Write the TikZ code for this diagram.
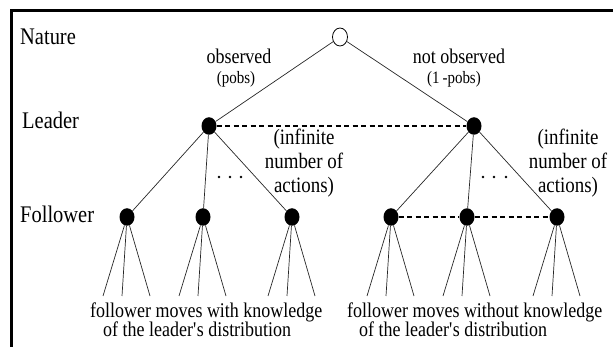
\documentclass[tikz,border=0pt]{standalone}
\usepackage{fontspec}
\setmainfont{Liberation Serif}[FakeStretch=0.86]
\usetikzlibrary{shapes.geometric,calc}
\newcommand{\sq}{{\XeTeXglyph\XeTeXcharglyph"0027\relax}}
\begin{document}
\begin{tikzpicture}[x=1pt,y=-1pt,
  decision/.style={ellipse, fill=black, minimum width=15pt, minimum height=17.5pt, inner sep=0pt},
  chance/.style={ellipse, draw=black, fill=white, line width=0.8pt, minimum width=15pt, minimum height=18pt, inner sep=0pt},
  edge/.style={line width=0.7pt, draw=black!85},
  info/.style={line width=1.6pt, dash pattern=on 5pt off 3.5pt},
  frameline/.style={line width=3pt},
  lvl/.style={inner sep=0pt, anchor=base west, font=\fontsize{23.8}{26}\selectfont},
  branch/.style={inner sep=0pt, anchor=base, font=\fontsize{20.9}{22}\selectfont},
  prob/.style={inner sep=0pt, anchor=base, font=\fontsize{17.4}{19}\selectfont},
  note/.style={inner sep=0pt, align=center, font=\fontsize{22}{24}\selectfont},
  leaflbl/.style={inner sep=0pt, anchor=base west, font=\fontsize{20.9}{22}\selectfont},
  dotm/.style={circle, fill=black, minimum size=2.6pt, inner sep=0pt}
]
\useasboundingbox (0,0) rectangle (613,347);
% frame
\coordinate (fbl) at (11,347);
\coordinate (ftl) at (11,11);
\coordinate (ftr) at (613,11);
\draw[frameline] (fbl) -- (ftl) -- (ftr);

% level labels
\node[lvl] (tNature) at (20,45) {Nature};
\node[lvl] (tLeader) at (22,129) {Leader};
\node[lvl] (tFollower) at (20,223) {Follower};

% nodes
\node[chance] (nat) at (340,37) {};
\node[decision] (L1) at (209,126) {};
\node[decision] (L2) at (474,126) {};
\node[decision] (f1) at (127,217) {};
\node[decision] (f2) at (203,217) {};
\node[decision] (f3) at (292,217) {};
\node[decision] (f4) at (391,217) {};
\node[decision] (f5) at (467,217) {};
\node[decision] (f6) at (557,217) {};

% edges
\draw[edge] (nat) -- (L1);
\draw[edge] (nat) -- (L2);
\foreach \f in {f1,f2,f3} \draw[edge] (L1) -- (\f);
\foreach \f in {f4,f5,f6} \draw[edge] (L2) -- (\f);

% information sets
\draw[info] (L1) -- (L2);
\draw[info] (f4) -- (f5);
\draw[info] (f5) -- (f6);

% leaves
\foreach \f in {f1,f2,f3,f4,f5,f6}{
  \coordinate (\f-a) at ($(\f)+(-24,79)$);
  \coordinate (\f-b) at ($(\f)+(-5,79)$);
  \coordinate (\f-c) at ($(\f)+(23,79)$);
  \draw[edge] (\f) -- (\f-a);
  \draw[edge] (\f) -- (\f-b);
  \draw[edge] (\f) -- (\f-c);
}

% dots
\node[dotm] (d1) at (219,177) {};
\node[dotm] (d2) at (230,177) {};
\node[dotm] (d3) at (241,177) {};
\node[dotm] (d4) at (483,177) {};
\node[dotm] (d5) at (494,177) {};
\node[dotm] (d6) at (506,177) {};

% branch labels
\node[branch] (obs) at (239,64) {observed};
\node[prob] (pobs) at (236,84) {(pobs)};
\node[branch] (nobs) at (459,64) {not observed};
\node[prob] (npobs) at (454,84) {(1\,-pobs)};

% notes
\node[note] (inf1) at (304,163) {(infinite\\number of\\actions)};
\node[note] (inf2) at (568,163) {(infinite\\number of\\actions)};

% leaf labels
\node[leaflbl] (k1a) at (90,317) {follower moves with knowledge};
\node[leaflbl] (k1b) at (103,337) {of the leader\sq s distribution};
\node[leaflbl] (k2a) at (347,317) {follower moves without knowledge};
\node[leaflbl] (k2b) at (359,337) {of the leader\sq s distribution};
\end{tikzpicture}
\end{document}
